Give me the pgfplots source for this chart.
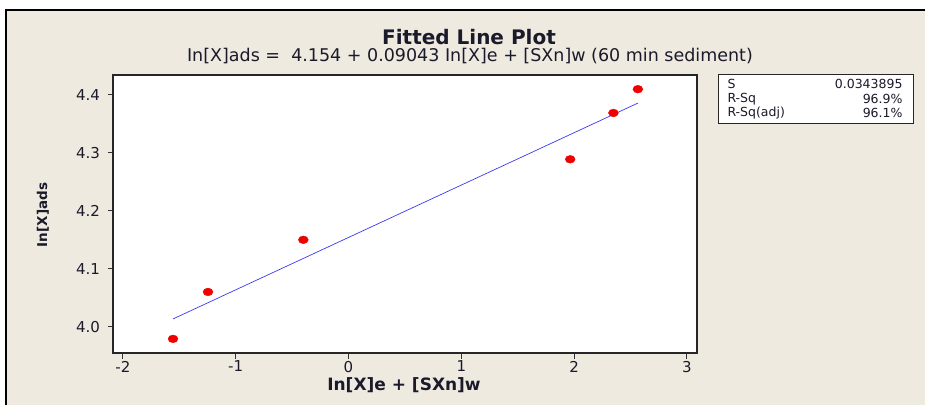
\documentclass[border=0pt]{standalone}
\usepackage{fontspec}
\setmainfont{DejaVu Sans}
\usepackage{pgfplots}
\pgfplotsset{compat=1.18}
\definecolor{bg}{HTML}{EEEAE0}
\definecolor{fitblue}{HTML}{3A3AF0}
\definecolor{ptred}{HTML}{F00000}
\definecolor{txt}{HTML}{1A1A2A}
\begin{document}
\begin{tikzpicture}[x=1pt,y=1pt]
\fill[white] (0,0) rectangle (925,405);
\fill[bg] (6,0) rectangle (925,395);
\draw[black,line width=1.6pt] (6,0) -- (6,395) -- (925,395);
\node[inner sep=0pt,font=\bfseries\fontsize{20}{22}\selectfont,text=txt] at (469,368) {Fitted Line Plot};
\node[inner sep=0pt,font=\fontsize{17.5}{20}\selectfont,text=txt] at (470,349) {In[X]ads =\ \ 4.154 + 0.09043 In[X]e + [SXn]w (60 min sediment)};
\begin{axis}[
  at={(113pt,52pt)}, anchor=south west,
  scale only axis, width=584pt, height=278pt,
  xmin=-2.087, xmax=3.089, ymin=3.9546, ymax=4.4345,
  axis background/.style={fill=white},
  axis line style={line width=1.2pt,color=black!85},
  tick pos=left, tick align=outside, major tick length=5.5pt,
  every tick/.style={line width=1pt,color=black!80},
  xtick={-2,-1,0,1,2,3}, ytick={4.0,4.1,4.2,4.3,4.4},
  yticklabel style={/pgf/number format/fixed,/pgf/number format/precision=1,/pgf/number format/fixed zerofill,xshift=-4pt},
  /pgf/number format/assume math mode=true,
  ticklabel style={font=\fontsize{15}{16}\selectfont,text=txt},
  xticklabel style={yshift=1pt},
  clip=false,
]
\addplot[fitblue, line width=0.7pt] coordinates {(-1.555,4.0134) (2.565,4.3860)};
\addplot[only marks, mark=*, mark size=4.3pt, ptred, mark options={draw=ptred,fill=ptred,xscale=1.15,yscale=0.9}] coordinates {
(-1.555,3.979) (-1.245,4.060) (-0.40,4.150) (1.965,4.289) (2.348,4.369) (2.565,4.410)};
\end{axis}
\node[font=\bfseries\fontsize{17}{19}\selectfont,text=txt] at (404,20) {In[X]e + [SXn]w};
\node[font=\bfseries\fontsize{13.5}{15}\selectfont,text=txt,rotate=90] at (43,190) {In[X]ads};
\draw[black!85,line width=1pt,fill=white] (718,282) rectangle (913,330);
\node[font=\fontsize{12.5}{13}\selectfont,text=txt,anchor=west] at (724,321) {S};
\node[font=\fontsize{12.5}{13}\selectfont,text=txt,anchor=west] at (724,306) {R-Sq};
\node[font=\fontsize{12.5}{13}\selectfont,text=txt,anchor=west] at (724,292) {R-Sq(adj)};
\node[font=\fontsize{12.5}{13}\selectfont,text=txt,anchor=east] at (906,321) {0.0343895};
\node[font=\fontsize{12.5}{13}\selectfont,text=txt,anchor=east] at (906,306) {96.9\%};
\node[font=\fontsize{12.5}{13}\selectfont,text=txt,anchor=east] at (906,292) {96.1\%};
\pgfresetboundingbox
\useasboundingbox (0,0) rectangle (925,405);
\end{tikzpicture}
\end{document}
